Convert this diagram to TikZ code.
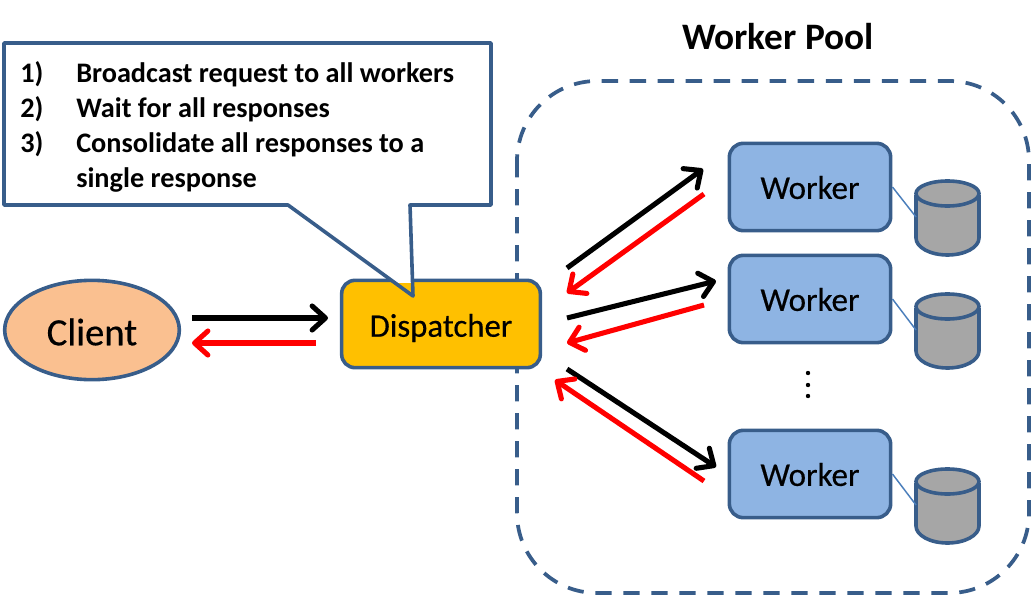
\documentclass[tikz,border=0pt]{standalone}
\usepackage{fontspec}
\setmainfont{Carlito}
\newfontfamily\heavyfont[FakeBold=0.4]{Carlito}
\usetikzlibrary{arrows.meta,shapes.geometric}
\definecolor{edge}{HTML}{385D8A}
\definecolor{workerfill}{HTML}{8EB4E3}
\definecolor{clientfill}{HTML}{FAC090}
\definecolor{dispfill}{HTML}{FFC000}
\definecolor{cylfill}{HTML}{A6A6A6}
\definecolor{linkline}{HTML}{4A7EBB}
\newcommand{\drop}[2]{\raisebox{-#1}[\height][\depth]{#2}}
\tikzset{
  x=0.75pt,y=-0.75pt,
  shapeline/.style={draw=edge,line width=2.7pt},
  workerbox/.style={shapeline,fill=workerfill,rounded corners=10.5pt,minimum width=121pt,minimum height=65.5pt,inner sep=0pt,font=\heavyfont\fontsize{24.8}{24.8}\selectfont,text=black},
  barbtip/.style={-{Straight Barb[round,length=10pt,width=18pt,line width=3.8pt]}},
  sendarrow/.style={line width=3.8pt,black,barbtip},
  replyarrow/.style={line width=3.8pt,red,barbtip},
  cylfilled/.style={shapeline,fill=cylfill},
  thinlink/.style={draw=linkline,line width=1.1pt},
  steptext/.style={anchor=base west,inner sep=0pt,font=\bfseries\fontsize{21.2}{21.2}\selectfont},
}
\begin{document}
\begin{tikzpicture}
\useasboundingbox (0,0) rectangle (1032,596);
% pool
\draw[edge,line width=2.8pt,dash pattern=on 12.2pt off 8.8pt,rounded corners=60pt] (517,81) rectangle (1029,593);
\node[font=\bfseries\fontsize{28}{28}\selectfont,inner sep=0pt] (pooltitle) at (778,37) {Worker Pool};
% client, dispatcher
\node[shapeline,fill=clientfill,ellipse,minimum width=131pt,minimum height=74.5pt,inner sep=0pt,font=\heavyfont\fontsize{29}{29}\selectfont] (client) at (92,330) {\drop{1.5pt}{Client}};
\node[shapeline,fill=dispfill,rounded corners=10pt,minimum width=149pt,minimum height=65.5pt,inner sep=0pt,font=\heavyfont\fontsize{24.6}{24.6}\selectfont] (disp) at (441,324) {\drop{3pt}{Dispatcher}};
% callout
\begin{scope}
\clip (0,0) rectangle (1032,282);
\fill[white] (4,43) -- (491,43) -- (491,205) -- (410,205) -- (413,296) -- (288,205) -- (4,205) -- cycle;
\end{scope}
\draw[shapeline,line join=round] (4,43) -- (491,43) -- (491,205) -- (410,205) -- (413,296) -- (288,205) -- (4,205) -- cycle;
\node[steptext] (n1) at (20,82) {1)};
\node[steptext] (t1) at (76,82) {Broadcast request to all workers};
\node[steptext] (n2) at (20,117) {2)};
\node[steptext] (t2) at (76,117) {Wait for all responses};
\node[steptext] (n3) at (20,152) {3)};
\node[steptext] (t3) at (76,152) {Consolidate all responses to a};
\node[steptext] (t4) at (76,187) {single response};
% workers
\node[workerbox] (w1) at (810,187) {\drop{0.4pt}{Worker}};
\node[workerbox] (w2) at (810,299) {\drop{0.4pt}{Worker}};
\node[workerbox] (w3) at (810,474) {\drop{0.4pt}{Worker}};
% dots
\fill (808,373) circle (2.2) (808,385) circle (2.2) (808,396) circle (2.2);
% cylinders
\foreach \n/\y in {1/180,2/293,3/468}{
  \coordinate (cyl\n) at (916,\y+37);
  \draw[cylfilled] (916,\y+17) -- (916,\y+58) arc[start angle=180,end angle=0,x radius=31.5,y radius=17] -- (979,\y+17) -- cycle;
  \draw[cylfilled] (947.5,\y+13.5) ellipse[x radius=31.5,y radius=12.5];
}
\draw[thinlink] (w1.east) -- (cyl1);
\draw[thinlink] (w2.east) -- (cyl2);
\draw[thinlink] (w3.east) -- (cyl3);
% arrows
\coordinate (a1) at (192,318); \coordinate (a2) at (328,318);
\coordinate (b1) at (316,343); \coordinate (b2) at (192,343);
\draw[sendarrow] (a1) -- (a2);
\draw[replyarrow] (b1) -- (b2);
\coordinate (c1) at (567,268); \coordinate (c2) at (703,169);
\coordinate (d1) at (704,194); \coordinate (d2) at (567,293);
\coordinate (e1) at (567,318); \coordinate (e2) at (716,281);
\coordinate (f1) at (704,305); \coordinate (f2) at (567,343);
\coordinate (g1) at (567,369); \coordinate (g2) at (716,467);
\coordinate (h1) at (704,481); \coordinate (h2) at (555,380);
\draw[sendarrow] (c1) -- (c2);
\draw[replyarrow] (d1) -- (d2);
\draw[sendarrow] (e1) -- (e2);
\draw[replyarrow] (f1) -- (f2);
\draw[sendarrow] (g1) -- (g2);
\draw[replyarrow] (h1) -- (h2);
\end{tikzpicture}
\end{document}
